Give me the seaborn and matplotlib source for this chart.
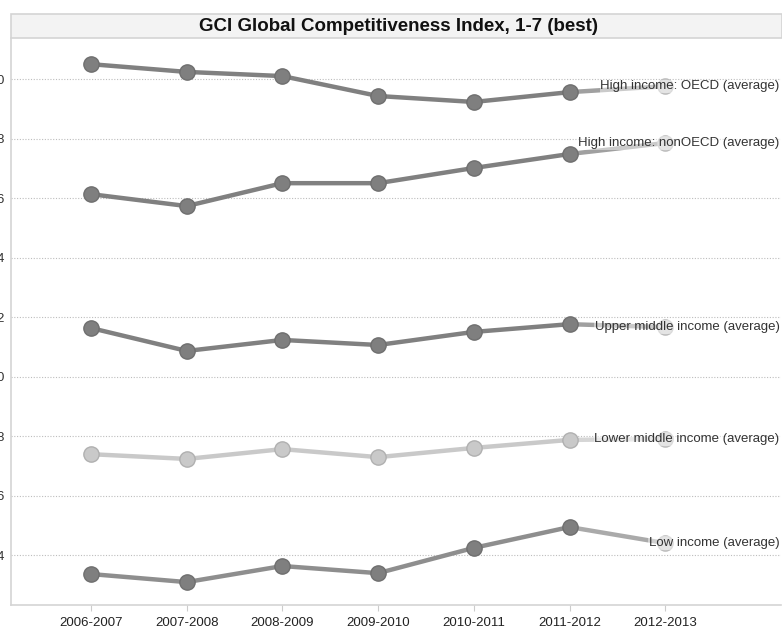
import matplotlib
matplotlib.use('Agg')
import matplotlib.pyplot as plt
from matplotlib.patches import Rectangle
import matplotlib.transforms as mtransforms
import seaborn as sns
import pandas as pd

periods = ["2006-2007", "2007-2008", "2008-2009", "2009-2010",
           "2010-2011", "2011-2012", "2012-2013"]
series_names = ["High income: OECD (average)",
                "High income: nonOECD (average)",
                "Upper middle income (average)",
                "Lower middle income (average)",
                "Low income (average)"]
oecd = [5.050, 5.024, 5.010, 4.943, 4.923, 4.956, 4.976]
non_oecd = [4.613, 4.573, 4.650, 4.650, 4.701, 4.748, 4.785]
upper_middle = [4.163, 4.086, 4.123, 4.106, 4.150, 4.176, 4.166]
lower_middle = [3.739, 3.723, 3.756, 3.729, 3.760, 3.787, 3.790]
low = [3.336, 3.309, 3.363, 3.339, 3.424, 3.494, 3.440]
yticks = [3.4, 3.6, 3.8, 4.0, 4.2, 4.4, 4.6, 4.8, 5.0]
title = "GCI Global Competitiveness Index, 1-7 (best)"

all_series = [oecd, non_oecd, upper_middle, lower_middle, low]
line_colors = ["#808080", "#808080", "#808080", "#c9c9c9", "#8e8e8e"]
marker_colors = ["#7f7f7f", "#7f7f7f", "#7f7f7f", "#c9c9c9", "#7f7f7f"]
edge_colors = ["#6f6f6f", "#6f6f6f", "#6f6f6f", "#b0b0b0", "#6f6f6f"]

sns.set_theme(style="white")
plt.rcParams['font.family'] = ['Liberation Sans', 'DejaVu Sans']

W, H = 782, 630
fig = plt.figure(figsize=(W / 100, H / 100), dpi=100)
ax = fig.add_axes([11 / W, 1 - 605 / H, (781 - 11) / W, (605 - 38) / H])

rows = []
for name, vals in zip(series_names, all_series):
    for i, (p, v) in enumerate(zip(periods, vals)):
        rows.append(dict(period=p, pos=i, value=v, series=name))
df = pd.DataFrame(rows)
last_pos = len(periods) - 1

for name, lc, mc, ec in zip(series_names, line_colors, marker_colors, edge_colors):
    sub = df[df.series == name]
    main = sub[sub.pos < last_pos]
    tail = sub[sub.pos >= last_pos - 1]
    sns.lineplot(data=tail, x="pos", y="value", color=lc, lw=3.2, alpha=0.75,
                 ax=ax, zorder=1.5, legend=False)
    sns.lineplot(data=main, x="pos", y="value", color=lc, lw=3.2,
                 marker="o", markersize=11, markerfacecolor=mc,
                 markeredgecolor=ec, markeredgewidth=1, ax=ax, zorder=2,
                 legend=False)
    lastp = sub[sub.pos == last_pos]
    sns.scatterplot(data=lastp, x="pos", y="value", color="#cfcfcf", s=120,
                    edgecolor="#bdbdbd", linewidth=1, ax=ax, zorder=2.5,
                    legend=False)
    trans = mtransforms.blended_transform_factory(ax.transAxes, ax.transData)
    ax.text(0.998, lastp.value.iloc[0], name, transform=trans, ha="right",
            va="center", fontsize=9.5, color="#333333", zorder=3,
            bbox=dict(facecolor="white", alpha=0.45, edgecolor="none", pad=0.5))

ax.set_xlim(-0.836, 7.21)
ax.set_ylim(3.232, 5.138)
ax.set_xticks(range(len(periods)))
ax.set_xticklabels(periods)
ax.set_yticks(yticks)
ax.set_yticklabels([f"{t:.1f}" for t in yticks])
ax.set_xlabel("")
ax.set_ylabel("")
ax.tick_params(axis="y", length=0, pad=4.5, labelsize=9.5, labelcolor="#333333")
ax.tick_params(axis="x", length=4, width=0.8, color="#cccccc", pad=4.5,
               labelsize=9.5, labelcolor="#222222", bottom=True)
ax.grid(axis="y", linestyle=(0, (1, 1.5)), color="#bdbdbd", lw=0.8)
ax.set_axisbelow(True)
for side in ["top", "right"]:
    ax.spines[side].set_visible(False)
for side in ["left", "bottom"]:
    ax.spines[side].set_color("#d4d4d4")
    ax.spines[side].set_linewidth(1.2)

band = Rectangle((11 / W, 1 - 38 / H), (782 - 11) / W, 24 / H,
                 transform=fig.transFigure, facecolor="#f3f3f3",
                 edgecolor="#d4d4d4", lw=1.2)
fig.patches.append(band)
fig.text((11 + 782) / 2 / W + 2 / W, 1 - 26.5 / H, title, ha="center", va="center",
         fontsize=13.5, fontweight="bold", color="#111111")

fig.savefig("out.png", dpi=100)
